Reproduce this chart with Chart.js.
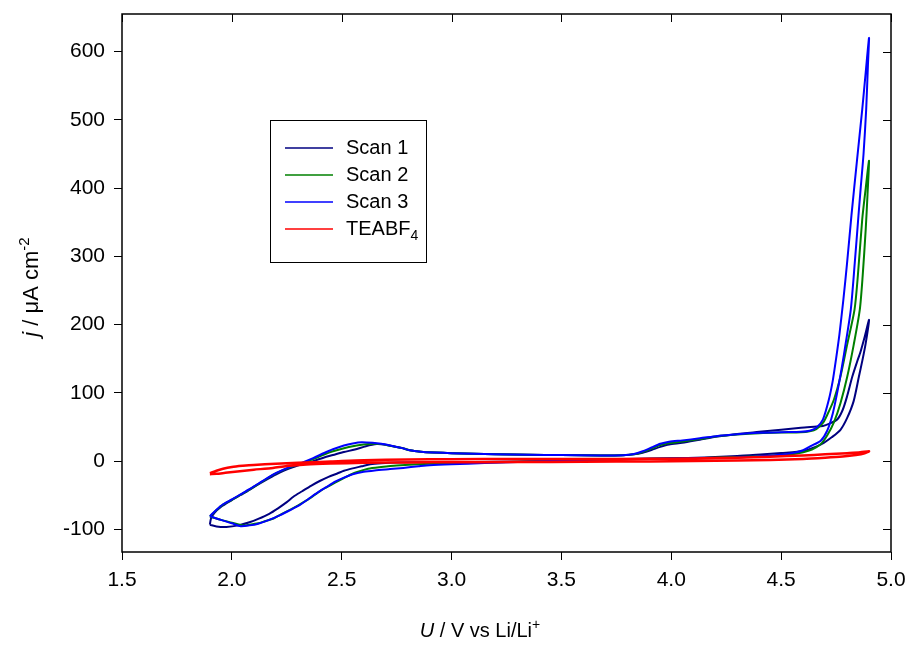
<!DOCTYPE html>
<html>
<head>
<meta charset="utf-8">
<script src="https://cdn.jsdelivr.net/npm/chart.js@4"></script>
<style>
html,body{margin:0;padding:0;background:#fff;}
#wrap{width:909px;height:645px;position:relative;}
</style>
</head>
<body>
<div id="wrap"><canvas id="c" width="909" height="645"></canvas></div>
<script>
// ---------------- data ----------------
const xTickValues = [1.5, 2.0, 2.5, 3.0, 3.5, 4.0, 4.5, 5.0];
const yTickValues = [-100, 0, 100, 200, 300, 400, 500, 600];
const seriesNames = ["Scan 1", "Scan 2", "Scan 3", "TEABF4"];
const seriesColors = ["#000080", "#008000", "#0000ff", "#ff0000"];

// Scan 1 (navy): potential U / V and current density j / µA cm-2, one closed loop
const scan1U = [1.90,1.905,1.92,1.95,2.00,2.04,2.08,2.12,2.16,2.20,2.24,2.28,2.32,2.37,2.42,2.46,2.51,2.56,2.61,2.66,2.70,2.74,2.78,2.81,2.86,2.92,3.00,3.10,3.20,3.35,3.50,3.68,3.78,3.83,3.87,3.91,3.95,3.99,4.05,4.13,4.21,4.30,4.40,4.50,4.59,4.65,4.69,4.72,4.755,4.78,4.80,4.824,4.845,4.861,4.88,4.90,
  4.885,4.87,4.854,4.83,4.80,4.77,4.73,4.694,4.65,4.603,4.50,4.406,4.30,4.15,4.00,3.85,3.68,3.50,3.30,3.10,2.90,2.75,2.68,2.63,2.59,2.55,2.51,2.48,2.44,2.40,2.36,2.32,2.28,2.25,2.21,2.17,2.12,2.08,2.03,1.975,1.93,1.90];
const scan1J = [-93,-84,-76,-67,-57,-49.5,-42,-34,-26.5,-19.5,-13.5,-8.5,-4.5,0,5.5,9,13.5,17,22,25,24,21.5,19,16,14,12.8,11.8,10.8,10,9.4,8.9,8.4,8.8,10,12.5,16.5,21,24.5,27,31.5,36,40,43,46,49,50.5,51.5,55,61,75,95,124,145,160,182,207,
  173,148,124,88,63,46,35,27,20,15,12,9.8,7.5,5.5,4.3,3.5,2.5,1,-0.5,-1,-1.5,-2,-3,-4.5,-7.5,-10.5,-14,-18,-23,-29,-36,-44,-52,-60,-69,-77,-84.5,-89.5,-94,-96.3,-95.5,-93];

// Scan 2 (green)
const scan2U = [1.90,1.93,1.96,2.00,2.04,2.08,2.12,2.16,2.20,2.24,2.28,2.32,2.37,2.42,2.46,2.51,2.55,2.60,2.64,2.68,2.72,2.77,2.81,2.86,2.92,3.00,3.10,3.20,3.35,3.50,3.68,3.78,3.83,3.87,3.91,3.95,3.99,4.05,4.13,4.21,4.30,4.40,4.50,4.59,4.63,4.66,4.69,4.71,4.74,4.77,4.80,4.834,4.849,4.869,4.885,4.90,
  4.893,4.885,4.871,4.858,4.83,4.801,4.77,4.74,4.71,4.68,4.64,4.60,4.55,4.45,4.30,4.15,4.00,3.85,3.68,3.50,3.30,3.10,2.90,2.75,2.68,2.62,2.56,2.52,2.49,2.45,2.41,2.37,2.34,2.30,2.26,2.22,2.19,2.15,2.12,2.08,2.05,2.00,1.95,1.90];
const scan2J = [-81,-71.5,-63.5,-56.5,-49,-41.5,-33.5,-25.5,-18,-12,-7,-3,3,9.8,14.5,19,22,24.5,25.5,25,22.5,19.5,16,14,12.8,11.8,10.8,10,9.4,8.9,8.4,8.8,10.2,13.5,18.5,23.5,26.5,29,32.5,36.5,39,41,42,42.5,44,47,56,68,90,124,170,222,271,354,400,440,
  390,340,271,222,170,124,85,57,38,25,17,13,10,8,6,4.8,4,3.3,2.5,0.8,-0.8,-2.2,-3.8,-6.3,-8.5,-11,-17,-23,-28,-35,-42,-51,-57.5,-65,-72,-78.5,-84,-88,-91,-93,-94,-90,-86,-81];

// Scan 3 (blue)
const scan3U = [1.90,1.93,1.96,2.00,2.04,2.08,2.12,2.16,2.20,2.24,2.28,2.32,2.37,2.42,2.46,2.51,2.55,2.59,2.64,2.68,2.72,2.77,2.81,2.86,2.92,3.00,3.10,3.20,3.35,3.50,3.68,3.78,3.83,3.87,3.91,3.95,3.99,4.05,4.13,4.21,4.30,4.40,4.50,4.59,4.63,4.66,4.69,4.717,4.735,4.75,4.765,4.783,4.80,4.82,4.845,4.869,4.885,4.90,
  4.895,4.887,4.875,4.862,4.852,4.835,4.817,4.795,4.775,4.755,4.735,4.71,4.68,4.634,4.60,4.557,4.50,4.406,4.30,4.15,4.00,3.85,3.68,3.50,3.30,3.15,3.00,2.90,2.85,2.78,2.72,2.65,2.60,2.55,2.51,2.47,2.43,2.39,2.35,2.31,2.26,2.22,2.17,2.12,2.08,2.04,2.00,1.95,1.90];
const scan3J = [-80.5,-71,-63,-56,-48.5,-41,-33,-25,-17.5,-11.5,-6.5,-2,4.5,12,17.5,23,26,27.8,27,25.5,23,19.5,16,14,12.8,11.8,10.8,10,9.4,8.9,8.4,8.8,10.5,14.5,20,25.5,28.5,30.5,33.5,37,39.5,41.5,42.5,43,44.5,49,61,90,118,150,185,236,290,360,440,515,570,620,
  580,515,450,400,360,290,222,175,135,100,70,45,30,22,16,12.2,9.5,7.3,5.5,4.5,3.8,3.2,2.5,0.8,-1,-2.8,-4.5,-6,-7.5,-9.8,-11.5,-13.5,-15.5,-19,-24,-30,-38,-46,-55,-64,-72.5,-79,-86,-91.5,-94,-95.2,-91,-86,-80.5];

// TEABF4 blank electrolyte (red)
const teaU = [1.90,1.93,1.96,2.00,2.05,2.10,2.20,2.30,2.45,2.60,2.80,3.00,3.30,3.60,3.90,4.10,4.30,4.45,4.60,4.70,4.80,4.86,4.90,
  4.88,4.84,4.78,4.70,4.60,4.45,4.30,4.10,3.90,3.60,3.30,3.00,2.80,2.60,2.45,2.34,2.25,2.187,2.10,2.036,1.97,1.93,1.90];
const teaJ = [-17.5,-14,-11,-8.5,-6.8,-5.5,-3.8,-2.3,-0.5,1.5,2.5,3,3.2,3.3,3.5,4,5.2,6.5,8.5,10,11.8,13,14.5,
  11.5,9,6.8,5,3.2,1.8,1,0.3,-0.3,-0.8,-1.3,-1.6,-1.8,-2.3,-3.5,-4.8,-7,-9.8,-12.5,-14.6,-17,-18.5,-19];

// ---------------- helpers ----------------
const FONT = '"Liberation Sans", Arial, Helvetica, sans-serif';
function pts(u, j) { return u.map((v, i) => ({x: v, y: j[i]})); }

function drawRich(ctx, parts, x, y, size, align) {
  const fontOf = p => (p.italic ? 'italic ' : '') + ((p.sup || p.sub) ? Math.round(size * 0.68) : size) + 'px ' + FONT;
  let w = 0;
  parts.forEach(p => { ctx.font = fontOf(p); w += ctx.measureText(p.t).width; });
  let cx = align === 'center' ? x - w / 2 : x;
  parts.forEach(p => {
    ctx.font = fontOf(p);
    let dy = 0;
    if (p.sup) dy = -size * 0.42;
    if (p.sub) dy = size * 0.36;
    ctx.fillText(p.t, cx, y + dy);
    cx += ctx.measureText(p.t).width;
  });
}

const framePlugin = {
  id: 'frame',
  afterDatasetsDraw(chart) {
    const {ctx, chartArea: a, scales} = chart;
    ctx.save();
    ctx.strokeStyle = '#000';
    ctx.lineWidth = 1.5;
    ctx.strokeRect(a.left, a.top, a.right - a.left, a.bottom - a.top);
    ctx.lineWidth = 1;
    xTickValues.forEach(v => {
      const px = Math.round(scales.x.getPixelForValue(v)) + 0.5;
      ctx.beginPath(); ctx.moveTo(px, a.top); ctx.lineTo(px, a.top + 8); ctx.stroke();
    });
    yTickValues.forEach(v => {
      const py = Math.round(scales.y.getPixelForValue(v)) + 0.5;
      ctx.beginPath(); ctx.moveTo(a.right, py); ctx.lineTo(a.right - 8, py); ctx.stroke();
    });
    ctx.restore();
  }
};

const labelPlugin = {
  id: 'labels',
  afterDraw(chart) {
    const ctx = chart.ctx;
    ctx.save();
    ctx.fillStyle = '#000';
    ctx.textBaseline = 'alphabetic';
    drawRich(ctx, [{t: 'U', italic: true}, {t: ' / V vs Li/Li'}, {t: '+', sup: true}], 480, 637, 20, 'center');
    ctx.translate(38, 287);
    ctx.rotate(-Math.PI / 2);
    drawRich(ctx, [{t: 'j', italic: true}, {t: ' / μA cm'}, {t: '-2', sup: true}], 0, 0, 22, 'center');
    ctx.restore();

    ctx.save();
    const bx = 270, by = 120, bw = 156, bh = 142;
    ctx.strokeStyle = '#000';
    ctx.lineWidth = 1;
    ctx.strokeRect(bx + 0.5, by + 0.5, bw, bh);
    const rows = [148, 175, 202, 229];
    chart.data.datasets.forEach((ds, i) => {
      ctx.strokeStyle = ds.borderColor;
      ctx.lineWidth = 1.5;
      ctx.beginPath(); ctx.moveTo(285, rows[i]); ctx.lineTo(333, rows[i]); ctx.stroke();
      ctx.fillStyle = '#000';
      ctx.textBaseline = 'middle';
      if (ds.label === 'TEABF4') {
        drawRich(ctx, [{t: 'TEABF'}, {t: '4', sub: true}], 346, rows[i], 20, 'left');
      } else {
        drawRich(ctx, [{t: ds.label}], 346, rows[i], 20, 'left');
      }
    });
    ctx.restore();
  }
};

const allU = [scan1U, scan2U, scan3U, teaU];
const allJ = [scan1J, scan2J, scan3J, teaJ];
const drawOrder = [4, 3, 2, 1];
const widths = [2, 2, 2, 2.5];

const datasets = seriesNames.map((name, i) => ({
  label: name,
  data: pts(allU[i], allJ[i]),
  showLine: true,
  borderColor: seriesColors[i],
  backgroundColor: seriesColors[i],
  borderWidth: widths[i],
  pointRadius: 0,
  pointHoverRadius: 0,
  tension: 0.25,
  fill: false,
  order: drawOrder[i]
}));

Chart.defaults.font.family = FONT;
Chart.defaults.color = '#000';

new Chart(document.getElementById('c'), {
  type: 'scatter',
  data: {datasets},
  options: {
    responsive: false,
    animation: false,
    devicePixelRatio: 1,
    layout: {padding: {top: 14, right: 18, left: 0, bottom: 0}},
    plugins: {legend: {display: false}, tooltip: {enabled: false}},
    scales: {
      x: {
        type: 'linear', position: 'bottom', min: 1.5, max: 5.0,
        afterBuildTicks: s => { s.ticks = xTickValues.map(v => ({value: v})); },
        afterFit: s => { s.height = 93; s.paddingLeft = 0; s.paddingRight = 0; },
        ticks: {font: {size: 21}, color: '#000', padding: 8, maxRotation: 0,
                callback: v => Number(v).toFixed(1)},
        grid: {display: true, drawOnChartArea: false, drawTicks: true, tickLength: 8, color: '#000', lineWidth: 1},
        border: {display: false}
      },
      y: {
        type: 'linear', position: 'left', min: -133, max: 655,
        afterBuildTicks: s => { s.ticks = yTickValues.map(v => ({value: v})); },
        afterFit: s => { s.width = 122; s.paddingTop = 0; s.paddingBottom = 0; },
        ticks: {font: {size: 21}, color: '#000', padding: 9,
                callback: v => String(v)},
        grid: {display: true, drawOnChartArea: false, drawTicks: true, tickLength: 8, color: '#000', lineWidth: 1},
        border: {display: false}
      }
    }
  },
  plugins: [framePlugin, labelPlugin]
});
</script>
</body>
</html>
